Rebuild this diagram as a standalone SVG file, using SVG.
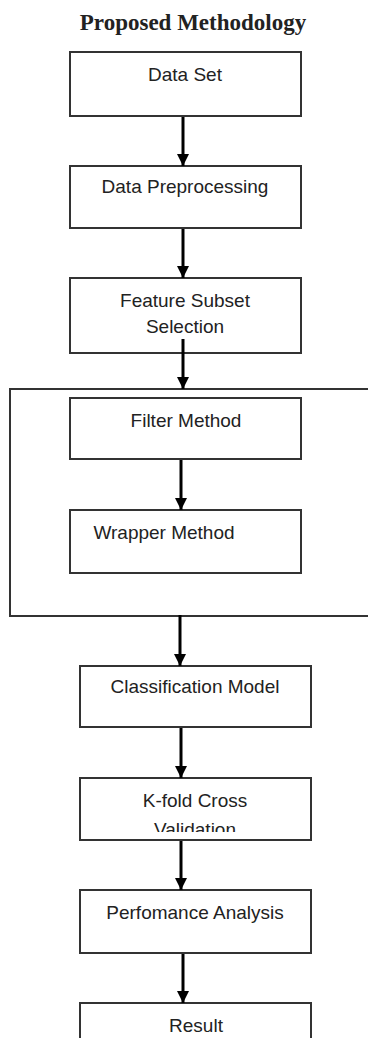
<svg xmlns="http://www.w3.org/2000/svg" width="368" height="1038" viewBox="0 0 368 1038">
<style>
.box{fill:#fff;stroke:#333;stroke-width:2}
.lbl{font-family:"Liberation Sans",Arial,sans-serif;font-size:19px;fill:#222;text-anchor:middle}
.title{font-family:"Liberation Serif","Times New Roman",serif;font-size:23px;font-weight:bold;fill:#222;text-anchor:middle}
.conn{stroke:#000;stroke-width:3;fill:none;marker-end:url(#arr)}
</style>
<defs>
<marker id="arr" markerUnits="userSpaceOnUse" markerWidth="12" markerHeight="12" viewBox="0 0 12 12" refX="12" refY="6" orient="auto">
<path d="M0,0 L12,6 L0,12 z" fill="#000"/>
</marker>
<clipPath id="kclip"><rect x="80" y="778" width="231" height="54"/></clipPath>
</defs>
<rect width="368" height="1038" fill="#fff"/>
<text class="title" x="193" y="30">Proposed Methodology</text>

<g id="container">
<path d="M370,389 H10 V616 H370" fill="none" stroke="#333" stroke-width="2"/>
</g>

<g id="n-dataset">
<rect class="box" x="70" y="52" width="231" height="64"/>
<text class="lbl" x="185" y="81">Data Set</text>
</g>
<g id="n-preproc">
<rect class="box" x="70" y="166" width="231" height="62"/>
<text class="lbl" x="185" y="193">Data Preprocessing</text>
</g>
<g id="n-feature">
<rect class="box" x="70" y="278" width="231" height="75"/>
<text class="lbl" x="185" y="307">Feature Subset</text>
<text class="lbl" x="185" y="333">Selection</text>
</g>
<g id="n-filter">
<rect class="box" x="70" y="398" width="231" height="61"/>
<text class="lbl" x="186" y="427">Filter Method</text>
</g>
<g id="n-wrapper">
<rect class="box" x="70" y="510" width="231" height="63"/>
<text class="lbl" x="164" y="539">Wrapper Method</text>
</g>
<g id="n-classif">
<rect class="box" x="80" y="666" width="231" height="61"/>
<text class="lbl" x="195" y="693">Classification Model</text>
</g>
<g id="n-kfold">
<rect class="box" x="80" y="778" width="231" height="62"/>
<text class="lbl" x="195" y="807">K-fold Cross</text>
<text class="lbl" x="195" y="836" clip-path="url(#kclip)">Validation</text>
</g>
<g id="n-perf">
<rect class="box" x="80" y="890" width="231" height="63"/>
<text class="lbl" x="195" y="919">Perfomance Analysis</text>
</g>
<g id="n-result">
<rect class="box" x="80" y="1003" width="231" height="50"/>
<text class="lbl" x="196" y="1032">Result</text>
</g>

<g id="connectors">
<line class="conn" x1="183" y1="117" x2="183" y2="166"/>
<line class="conn" x1="183" y1="229" x2="183" y2="278"/>
<line class="conn" x1="183" y1="339" x2="183" y2="389"/>
<line class="conn" x1="181" y1="460" x2="181" y2="510"/>
<line class="conn" x1="180" y1="615" x2="180" y2="666"/>
<line class="conn" x1="181" y1="728" x2="181" y2="778"/>
<line class="conn" x1="181" y1="841" x2="181" y2="890"/>
<line class="conn" x1="183" y1="954" x2="183" y2="1003"/>
</g>
</svg>
